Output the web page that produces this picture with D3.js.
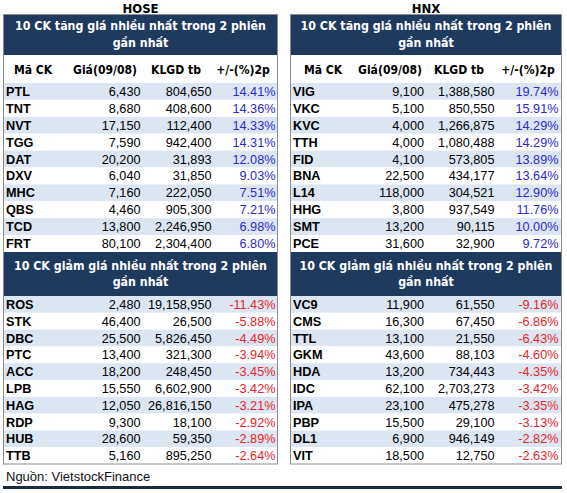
<!DOCTYPE html>
<html><head><meta charset="utf-8">
<script src="https://cdn.jsdelivr.net/npm/d3@7"></script>
<style>body{margin:0;background:#fff}svg{display:block}</style>
</head><body>
<svg id="c" width="567" height="493"></svg>
<script>
const exchanges = ["HOSE", "HNX"];
const colHeaders = ["Mã CK", "Giá(09/08)", "KLGD tb", "+/-(%)2p"];
const upTitle = ["10 CK tăng giá nhiều nhất trong 2 phiên", "gần nhất"];
const downTitle = ["10 CK giảm giá nhiều nhất trong 2 phiên", "gần nhất"];
const sourceText = "Nguồn: VietstockFinance";

const hoseUpTickers = ["PTL","TNT","NVT","TGG","DAT","DXV","MHC","QBS","TCD","FRT"];
const hoseUpPrice = [6430,8680,17150,7590,20200,6040,7160,4460,13800,80100];
const hoseUpVol = [804650,408600,112400,942400,31893,31850,222050,905300,2246950,2304400];
const hoseUpPct = [14.41,14.36,14.33,14.31,12.08,9.03,7.51,7.21,6.98,6.80];

const hoseDownTickers = ["ROS","STK","DBC","PTC","ACC","LPB","HAG","RDP","HUB","TTB"];
const hoseDownPrice = [2480,46400,25500,13400,18200,15550,12050,9300,28600,5160];
const hoseDownVol = [19158950,26500,5826450,321300,248450,6602900,26816150,18100,59350,895250];
const hoseDownPct = [-11.43,-5.88,-4.49,-3.94,-3.45,-3.42,-3.21,-2.92,-2.89,-2.64];

const hnxUpTickers = ["VIG","VKC","KVC","TTH","FID","BNA","L14","HHG","SMT","PCE"];
const hnxUpPrice = [9100,5100,4000,4000,4100,22500,118000,3800,13200,31600];
const hnxUpVol = [1388580,850550,1266875,1080488,573805,434177,304521,937549,90115,32900];
const hnxUpPct = [19.74,15.91,14.29,14.29,13.89,13.64,12.90,11.76,10.00,9.72];

const hnxDownTickers = ["VC9","CMS","TTL","GKM","HDA","IDC","IPA","PBP","DL1","VIT"];
const hnxDownPrice = [11900,16300,13100,43600,13200,62100,23100,15500,6900,18500];
const hnxDownVol = [61550,67450,21550,88103,734443,2703273,475278,29100,946149,12750];
const hnxDownPct = [-9.16,-6.86,-6.43,-4.60,-4.35,-3.42,-3.35,-3.13,-2.82,-2.63];

const svg = d3.select("#c");
const dark = "#1f3a5f", light = "#dce6f2", borderC = "#8c8c8c";
const fmtN = d3.format(",");
const fmtP = v => v.toFixed(2) + "%";
const bodyFont = "'Liberation Sans', Arial, sans-serif";
const headFont = "'DejaVu Sans Condensed', 'DejaVu Sans', sans-serif";

function fitSize(text, targetW, weight, fam) {
  const t = svg.append("text").attr("font-family", fam).attr("font-weight", weight)
    .attr("font-size", 20).text(text);
  const w = t.node().getComputedTextLength();
  t.remove();
  return 20 * targetW / w;
}
const titleSize = fitSize(upTitle[0], 251, "bold", headFont);
const hdrSize = fitSize(colHeaders[1], 64, "bold", headFont);

const panels = [
  { x0: 3, x1: 278, name: exchanges[0],
    up: [hoseUpTickers, hoseUpPrice, hoseUpVol, hoseUpPct],
    down: [hoseDownTickers, hoseDownPrice, hoseDownVol, hoseDownPct],
    tick: 6, cols: [140.5, 211.5, 275.5], hdr: [33, 105, 176, 243] },
  { x0: 290, x1: 562, name: exchanges[1],
    up: [hnxUpTickers, hnxUpPrice, hnxUpVol, hnxUpPct],
    down: [hnxDownTickers, hnxDownPrice, hnxDownVol, hnxDownPct],
    tick: 293, cols: [424, 494.5, 558.5], hdr: [323, 390, 459, 528] }
];

function drawTitle(g, p, y0, y1, lines) {
  g.append("rect").attr("x", p.x0).attr("y", y0).attr("width", p.x1 - p.x0).attr("height", y1 - y0).attr("fill", dark);
  const cx = (p.x0 + p.x1) / 2;
  const mid = (y0 + y1) / 2;
  lines.forEach((t, i) => {
    g.append("text").attr("x", cx).attr("y", mid + (i - 0.5) * 16.5)
      .attr("text-anchor", "middle").attr("dominant-baseline", "central")
      .attr("fill", "#fff").attr("font-family", headFont).attr("font-weight", "bold")
      .attr("font-size", titleSize).text(t);
  });
}

function drawRows(g, p, y0, y1, data, isUp) {
  const [tk, pr, vol, pct] = data;
  const y = d3.scaleBand().domain(d3.range(tk.length)).range([y0, y1]);
  const rows = g.selectAll(null).data(tk.map((t, i) => ({ t, pr: pr[i], vol: vol[i], pct: pct[i], i })))
    .enter().append("g");
  rows.append("rect").attr("x", p.x0).attr("y", d => y(d.i)).attr("width", p.x1 - p.x0)
    .attr("height", y.bandwidth()).attr("fill", d => d.i % 2 === 0 ? light : "#fff");
  const ty = d => y(d.i) + y.bandwidth() / 2 + 0.5;
  const txt = (sel) => sel.attr("font-family", bodyFont).attr("font-size", 12.7).attr("dominant-baseline", "central");
  rows.append("text").call(txt).attr("x", p.tick).attr("y", ty).attr("font-weight", "bold").attr("fill", "#000").text(d => d.t);
  rows.append("text").call(txt).attr("x", p.cols[0]).attr("y", ty).attr("text-anchor", "end").attr("fill", "#000").text(d => fmtN(d.pr));
  rows.append("text").call(txt).attr("x", p.cols[1]).attr("y", ty).attr("text-anchor", "end").attr("fill", "#000").text(d => fmtN(d.vol));
  rows.append("text").call(txt).attr("x", p.cols[2]).attr("y", ty).attr("text-anchor", "end")
    .attr("fill", isUp ? "#2a2acc" : "#e8232b").text(d => fmtP(d.pct));
}

panels.forEach(p => {
  const g = svg.append("g");
  g.append("text").attr("x", (p.x0 + p.x1) / 2).attr("y", 8.5).attr("text-anchor", "middle")
    .attr("dominant-baseline", "central").attr("font-family", headFont).attr("font-weight", "bold")
    .attr("font-size", 13).text(p.name);
  drawTitle(g, p, 14, 55, upTitle);
  colHeaders.forEach((h, i) => {
    g.append("text").attr("x", p.hdr[i]).attr("y", 70).attr("text-anchor", "middle")
      .attr("dominant-baseline", "central").attr("font-family", headFont).attr("font-weight", "bold")
      .attr("font-size", hdrSize).text(h);
  });
  drawRows(g, p, 83, 252, p.up, true);
  drawTitle(g, p, 252, 296, downTitle);
  drawRows(g, p, 296, 464, p.down, false);
  g.append("rect").attr("x", p.x0 + 0.5).attr("y", 14.5).attr("width", p.x1 - p.x0 - 1).attr("height", 449.5)
    .attr("fill", "none").attr("stroke", borderC).attr("stroke-width", 1);
});

svg.append("text").attr("x", 6).attr("y", 476).attr("dominant-baseline", "central")
  .attr("font-family", bodyFont).attr("font-size", 13).attr("fill", "#111").text(sourceText);
svg.append("rect").attr("x", 3).attr("y", 486).attr("width", 559).attr("height", 3).attr("fill", "#1a2a3f");
</script>
</body></html>
